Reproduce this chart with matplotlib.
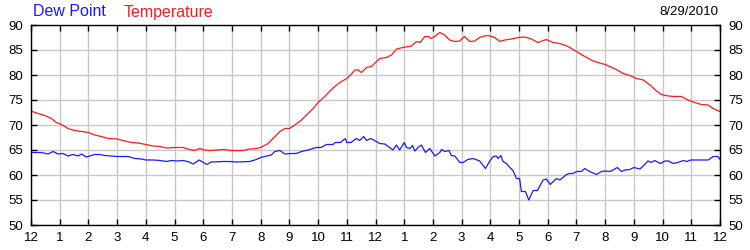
import numpy as np
import matplotlib.pyplot as plt

# hours since midnight, 8/29/2010
temp_hours = [0.0, 0.24, 0.48, 0.71, 0.88, 1.06, 1.29, 1.52, 1.76, 2.0, 2.22, 2.45, 2.69, 3.0,
              3.27, 3.5, 3.73, 4.0, 4.25, 4.5, 4.72, 5.0, 5.29, 5.53, 5.7, 5.88, 6.05, 6.23,
              6.7, 7.0, 7.38, 7.62, 7.85, 8.0, 8.26, 8.43, 8.67, 8.84, 9.0, 9.19, 9.42, 9.65,
              9.83, 10.0, 10.23, 10.4, 10.58, 10.81, 11.0, 11.15, 11.28, 11.39, 11.51, 11.69,
              11.86, 12.0, 12.15, 12.38, 12.56, 12.73, 12.96, 13.25, 13.43, 13.55, 13.72, 13.84,
              13.94, 14.06, 14.24, 14.41, 14.58, 14.76, 14.93, 15.1, 15.28, 15.45, 15.63, 15.86,
              16.0, 16.15, 16.33, 16.5, 16.74, 16.97, 17.2, 17.43, 17.66, 17.95, 18.19, 18.42,
              18.71, 19.0, 19.29, 19.58, 19.87, 20.0, 20.16, 20.39, 20.63, 20.86, 21.09, 21.33,
              21.56, 21.79, 21.96, 22.2, 22.42, 22.66, 22.89, 23.12, 23.35, 23.59, 23.76, 24.0]
temp_vals = [72.8, 72.3, 71.9, 71.3, 70.5, 70.1, 69.3, 68.9, 68.7, 68.5, 68.0, 67.7, 67.3, 67.2,
             66.8, 66.5, 66.4, 66.1, 65.8, 65.7, 65.4, 65.5, 65.5, 65.1, 64.9, 65.3, 65.0, 64.9,
             65.1, 64.9, 64.9, 65.2, 65.3, 65.5, 66.3, 67.3, 68.7, 69.3, 69.3, 70.0, 71.0, 72.3,
             73.3, 74.5, 75.7, 76.7, 77.7, 78.7, 79.3, 80.1, 81.0, 81.0, 80.5, 81.5,
             81.7, 82.5, 83.3, 83.5, 84.0, 85.2, 85.5, 85.8, 86.7, 86.5, 87.7, 87.7,
             87.3, 87.7, 88.5, 88.0, 87.0, 86.7, 86.8, 87.7, 86.7, 86.8, 87.5, 87.9,
             87.8, 87.5, 86.7, 87.0, 87.2, 87.5, 87.6, 87.2, 86.5, 87.1, 86.5, 86.3,
             85.7, 84.7, 83.7, 82.8, 82.3, 82.1, 81.7, 81.1, 80.3, 79.9, 79.3, 79.0,
             78.0, 76.8, 76.1, 75.8, 75.7, 75.7, 75.0, 74.5, 74.1, 74.0, 73.3, 72.7]

dew_hours = [0.0, 0.13, 0.36, 0.59, 0.77, 0.94, 1.12, 1.29, 1.46, 1.64, 1.76, 1.93, 2.22, 2.39,
             2.57, 2.8, 3.0, 3.15, 3.38, 3.62, 3.85, 4.0, 4.25, 4.5, 4.72, 4.89, 5.07, 5.29,
             5.46, 5.65, 5.86, 6.0, 6.13, 6.28, 6.7, 6.93, 7.16, 7.62, 7.85, 8.0, 8.14, 8.37,
             8.49, 8.67, 8.84, 9.07, 9.24, 9.42, 9.65, 9.94, 10.1, 10.29, 10.52, 10.6, 10.78,
             10.95, 11.0, 11.15, 11.33, 11.45, 11.59, 11.69, 11.83, 12.0, 12.15, 12.32, 12.44,
             12.61, 12.73, 12.84, 13.0, 13.08, 13.2, 13.29, 13.37, 13.48, 13.6, 13.74, 13.89,
             14.07, 14.24, 14.3, 14.41, 14.56, 14.64, 14.76, 14.94, 15.05, 15.22, 15.4, 15.63,
             15.83, 15.98, 16.1, 16.21, 16.27, 16.37, 16.44, 16.56, 16.68, 16.79, 16.91, 17.02,
             17.08, 17.22, 17.34, 17.49, 17.64, 17.84, 17.95, 18.09, 18.3, 18.42, 18.53, 18.65,
             18.76, 18.88, 19.0, 19.17, 19.29, 19.46, 19.7, 19.87, 20.0, 20.16, 20.28, 20.42,
             20.57, 20.69, 20.86, 21.0, 21.21, 21.38, 21.49, 21.61, 21.72, 21.93, 22.08, 22.2,
             22.37, 22.54, 22.72, 22.84, 22.98, 23.13, 23.59, 23.76, 23.93, 24.0]
dew_vals = [64.5, 64.5, 64.5, 64.2, 64.7, 64.2, 64.3, 63.8, 64.1, 63.8, 64.2, 63.6, 64.1, 64.1,
            63.9, 63.8, 63.7, 63.7, 63.7, 63.3, 63.2, 63.0, 63.0, 62.9, 62.7, 62.9, 62.8, 62.9,
            62.7, 62.2, 63.0, 62.5, 62.1, 62.6, 62.7, 62.7, 62.6, 62.7, 63.1, 63.5, 63.7, 64.0,
            64.7, 64.9, 64.2, 64.3, 64.3, 64.7, 65.0, 65.5, 65.5, 66.1, 66.1, 66.5, 66.5,
            67.3, 66.5, 66.5, 67.3, 66.9, 67.7, 66.9, 67.3, 66.8, 66.3, 66.2, 65.7,
            65.0, 66.0, 65.0, 66.5, 65.5, 65.3, 65.9, 64.8, 65.5, 66.0, 64.5, 65.3,
            63.8, 64.5, 65.1, 64.7, 64.9, 63.9, 63.8, 62.5, 62.5, 63.1, 63.3, 62.8,
            61.3, 62.8, 63.7, 63.8, 63.3, 63.9, 62.7, 62.3, 61.5, 60.9, 59.3, 59.3,
            56.7, 56.7, 55.0, 56.9, 56.9, 59.0, 59.2, 58.1, 59.3, 59.0, 59.5, 60.1,
            60.3, 60.3, 60.7, 60.7, 61.3, 60.7, 60.1, 60.7, 60.8, 60.7, 61.0, 61.5,
            60.7, 61.0, 61.1, 61.5, 61.2, 62.1, 62.8, 62.5, 62.9, 62.3, 62.8, 62.8,
            62.3, 62.5, 62.9, 62.7, 63.0, 63.0, 63.0, 63.7, 63.7, 63.1]

hour_labels = ['12', '1', '2', '3', '4', '5', '6', '7', '8', '9', '10', '11',
               '12', '1', '2', '3', '4', '5', '6', '7', '8', '9', '10', '11', '12']
date_label = '8/29/2010'

plt.rcParams['font.family'] = ['Liberation Sans', 'DejaVu Sans']

fig = plt.figure(figsize=(7.5, 2.5), dpi=100)
ax = fig.add_axes([31/750, 25/250, 689/750, 200/250])

ax.plot(temp_hours, temp_vals, color='#ff1a1a', lw=0.9)
ax.plot(dew_hours, dew_vals, color='#1a1aff', lw=0.9)

ax.set_xlim(0, 24)
ax.set_ylim(50, 90)
ax.set_xticks(np.arange(25))
ax.set_xticklabels(hour_labels)
ax.set_yticks(np.arange(50, 91, 5))
ax.grid(True, color='#c8c8c8', lw=1)
ax.set_axisbelow(True)
ax.tick_params(direction='in', length=4, width=1, labelsize=9.5, colors='black',
               top=True, right=True, labelright=True)
ax.tick_params(axis='y', pad=6)
ax.tick_params(axis='x', pad=5)
for s in ax.spines.values():
    s.set_linewidth(1)

fig.text(33/750, 1 - 12/250, 'Dew Point', color='#1a1aff', fontsize=11.5, va='center', ha='left')
fig.text(124/750, 1 - 12/250, 'Temperature', color='#ff1a1a', fontsize=11.5, va='center', ha='left')
fig.text(718/750, 1 - 12/250, date_label, color='black', fontsize=9.5, va='center', ha='right')

fig.savefig('out.png', dpi=100)
